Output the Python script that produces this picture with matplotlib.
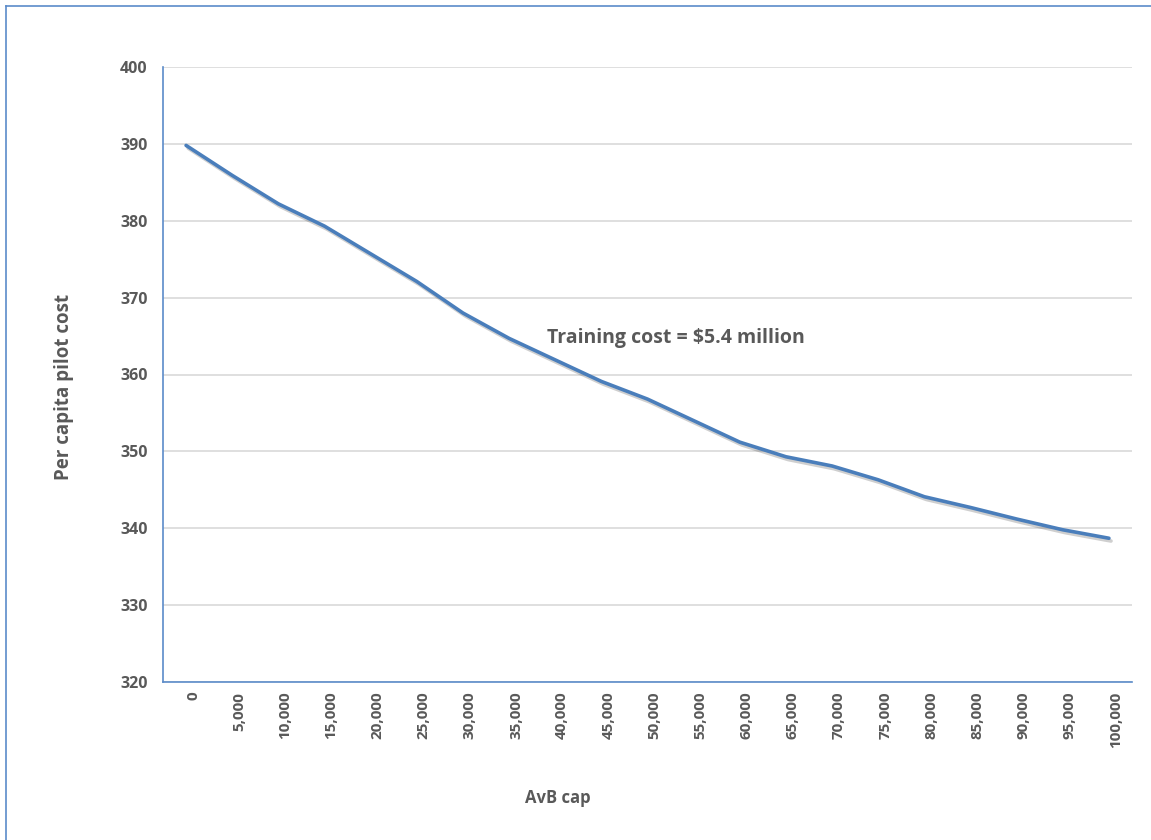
import matplotlib.pyplot as plt
import matplotlib.patheffects as pe
from matplotlib.lines import Line2D

# AvB cap steps and per capita pilot cost at each step
caps = ['0', '5,000', '10,000', '15,000', '20,000', '25,000', '30,000', '35,000',
        '40,000', '45,000', '50,000', '55,000', '60,000', '65,000', '70,000',
        '75,000', '80,000', '85,000', '90,000', '95,000', '100,000']
cost = [389.8, 385.9, 382.2, 379.3, 375.7, 372.1, 368.0, 364.7, 361.9, 359.1,
        356.8, 354.0, 351.2, 349.3, 348.1, 346.3, 344.1, 342.7, 341.2, 339.8, 338.7]

LINE = '#4a7ebb'
AXIS = '#5b8bc9'
TEXT = '#595959'
GRID = '#d9d9d9'

plt.rcParams['font.family'] = ['Open Sans', 'DejaVu Sans']

fig = plt.figure(figsize=(11.51, 8.40), dpi=100)
ax = fig.add_axes([163 / 1151, 158 / 840, 969 / 1151, 615 / 840])

x = list(range(len(caps)))
ax.plot(x, cost, color=LINE, lw=2.6, solid_capstyle='round', zorder=3,
        path_effects=[pe.SimpleLineShadow(offset=(1.5, -2), alpha=0.25, shadow_color='#404040'),
                      pe.Normal()])

ax.set_xlim(-0.5, len(caps) - 0.5)
ax.set_ylim(320, 400)
ax.set_yticks(range(320, 401, 10))
ax.set_xticks(x)
ax.set_xticklabels(caps, rotation=90, va='top', ha='left')

ax.grid(axis='y', color=GRID, lw=1.2)
ax.set_axisbelow(True)
for s in ['top', 'right']:
    ax.spines[s].set_visible(False)
for s in ['left', 'bottom']:
    ax.spines[s].set_color(AXIS)
    ax.spines[s].set_linewidth(1.2)
ax.tick_params(axis='y', length=0, pad=11, labelsize=11.5, labelcolor=TEXT)
ax.tick_params(axis='x', length=0, pad=7, labelsize=11, labelcolor=TEXT)
for lbl in ax.get_xticklabels() + ax.get_yticklabels():
    lbl.set_fontweight('bold')

ax.set_ylabel('Per capita pilot cost', fontsize=13.5, fontweight='bold', color=TEXT)
ax.yaxis.set_label_coords(-0.092, 0.48)
fig.text(558 / 1151, 1 - 798 / 840, 'AvB cap', fontsize=12, fontweight='bold',
         color=TEXT, ha='center', va='center')
ax.text(10.62, 364.8, 'Training cost = $5.4 million', fontsize=14, fontweight='bold',
        color=TEXT, ha='center', va='center')

# frame around the chart area
fig.add_artist(Line2D([6 / 1151, 6 / 1151], [0, 1 - 6 / 840], color=AXIS, lw=1.2))
fig.add_artist(Line2D([6 / 1151, 1], [1 - 6 / 840, 1 - 6 / 840], color=AXIS, lw=1.2))

fig.savefig('out.png', dpi=100, facecolor='white')
